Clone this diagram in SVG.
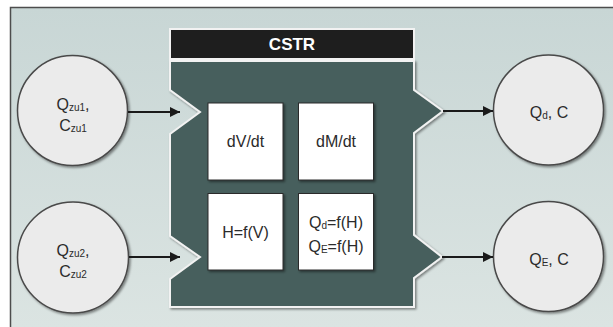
<svg xmlns="http://www.w3.org/2000/svg" width="613" height="327" viewBox="0 0 613 327">
<defs>
<linearGradient id="bg" x1="0" y1="0" x2="0" y2="1">
<stop offset="0" stop-color="#c8d6d5"/>
<stop offset="1" stop-color="#dbe4e2"/>
</linearGradient>
<filter id="sh" x="-20%" y="-20%" width="140%" height="140%">
<feDropShadow dx="1.5" dy="1.5" stdDeviation="1.2" flood-color="#000" flood-opacity="0.45"/>
</filter>
<marker id="ah" viewBox="0 0 10 10" refX="10" refY="5" markerWidth="5" markerHeight="5" orient="auto" markerUnits="strokeWidth">
<path d="M0,0 L10,5 L0,10 z" fill="#1a1a1a"/>
</marker>
<style>
.node{fill:#ebebeb;stroke:#4a4a4a;stroke-width:1.5;filter:url(#sh)}
.box{fill:#ffffff;stroke:#2a2a2a;stroke-width:1;filter:url(#sh)}
.t{font-family:"Liberation Sans",Arial,sans-serif;font-size:16px;fill:#2b2b2b;text-anchor:middle}
.s{font-size:10px}
.con{stroke:#1a1a1a;stroke-width:2;fill:none;marker-end:url(#ah)}
</style>
</defs>
<rect x="0" y="0" width="613" height="327" fill="#ffffff"/>
<rect x="10.5" y="7.5" width="603" height="320" fill="url(#bg)"/>
<path d="M10.5,327 V7.5 H613" fill="none" stroke="#4d4d4d" stroke-width="1.5"/>

<g id="cstr">
<polygon points="170,61 414,61 414,90 443,111 414,133 414,235 442,257 414,278 414,307 170,307 170,279 200,257 170,236 170,134 200,112 170,90" fill="#475f5d" stroke="#f2f2f2" stroke-width="2" filter="url(#sh)"/>
<rect x="170" y="29" width="244" height="30" fill="#1e1e1e" stroke="#f2f2f2" stroke-width="2"/>
<text x="292" y="50" class="t" style="fill:#ffffff;font-weight:bold;font-size:17px">CSTR</text>
</g>

<g id="box-dvdt">
<rect x="208" y="103" width="75" height="77" class="box"/>
<text x="245.5" y="147" class="t">dV/dt</text>
</g>
<g id="box-dmdt">
<rect x="298.5" y="103" width="75" height="77" class="box"/>
<text x="336" y="147" class="t">dM/dt</text>
</g>
<g id="box-hfv">
<rect x="208" y="193.5" width="75" height="76.5" class="box"/>
<text x="245.5" y="238" class="t">H=f(V)</text>
</g>
<g id="box-qfh">
<rect x="298.5" y="193.5" width="75" height="76.5" class="box"/>
<text x="336" y="228" class="t">Q<tspan class="s" dy="1">d</tspan><tspan dy="-1">=f(H)</tspan></text>
<text x="336" y="252" class="t">Q<tspan class="s" dy="1">E</tspan><tspan dy="-1">=f(H)</tspan></text>
</g>

<g id="in1">
<circle cx="72.5" cy="110.5" r="55" class="node"/>
<text x="73" y="110" class="t">Q<tspan class="s" dy="1">zu1</tspan><tspan dy="-1">,</tspan></text>
<text x="73" y="131" class="t">C<tspan class="s" dy="1">zu1</tspan></text>
</g>
<g id="in2">
<circle cx="73" cy="257.5" r="55.5" class="node"/>
<text x="73" y="256" class="t">Q<tspan class="s" dy="1">zu2</tspan><tspan dy="-1">,</tspan></text>
<text x="73" y="277" class="t">C<tspan class="s" dy="1">zu2</tspan></text>
</g>
<g id="out1">
<circle cx="548.5" cy="110" r="55" class="node"/>
<text x="549" y="118" class="t">Q<tspan class="s" dy="1">d</tspan><tspan dy="-1">, C</tspan></text>
</g>
<g id="out2">
<circle cx="548.5" cy="256.5" r="55" class="node"/>
<text x="549" y="265" class="t">Q<tspan class="s" dy="1">E</tspan><tspan dy="-1">, C</tspan></text>
</g>

<g id="connectors">
<line x1="128" y1="112" x2="180" y2="112" class="con"/>
<line x1="129" y1="257" x2="180" y2="257" class="con"/>
<line x1="443" y1="111" x2="493" y2="111" class="con"/>
<line x1="442" y1="257" x2="493" y2="257" class="con"/>
</g>
</svg>
